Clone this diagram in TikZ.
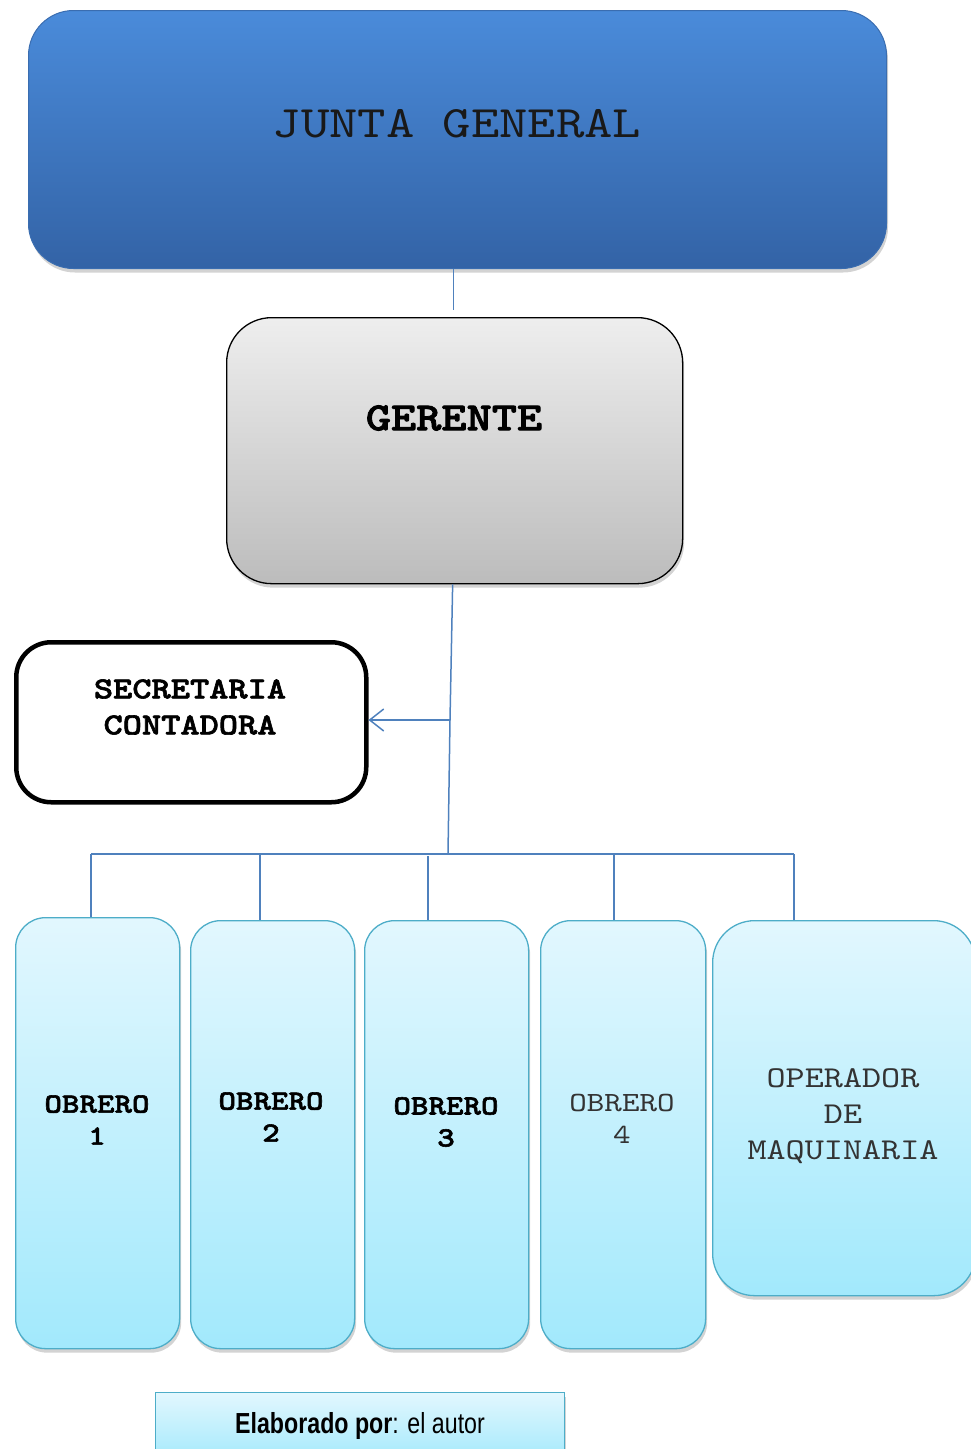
\documentclass[tikz,border=0pt]{standalone}
\usepackage{fontspec}
\newfontfamily\cour{lmmono10-regular.otf}[BoldFont=lmmonolt10-bold.otf, BoldFeatures={FakeBold=2}, FakeStretch=1.2]
\newfontfamily\narrow{Liberation Sans}[FakeStretch=0.80]
\usetikzlibrary{arrows.meta,shadows}
\definecolor{jgtop}{HTML}{4A8BDA}
\definecolor{jgbot}{HTML}{3363A6}
\definecolor{jgline}{HTML}{3A6DB0}
\definecolor{grtop}{HTML}{EEEEEE}
\definecolor{grbot}{HTML}{BCBCBC}
\definecolor{cytop}{HTML}{E2F7FE}
\definecolor{cybot}{HTML}{A2E9FC}
\definecolor{cyline}{HTML}{4DADC8}
\definecolor{link}{HTML}{4F81BD}
\tikzset{
  box/.style={anchor=north west, inner sep=0pt},
  shade/.style={drop shadow={opacity=0.35, shadow xshift=1.5pt, shadow yshift=-4pt}},
  junta/.style={box, rounded corners=45pt, top color=jgtop, bottom color=jgbot,
    draw=jgline, line width=1pt, shade},
  jefe/.style={box, rounded corners=45pt, top color=grtop, bottom color=grbot,
    draw=black, line width=1.3pt, shade},
  apoyo/.style={box, rounded corners=35pt, fill=white, draw=black, line width=4.5pt},
  obrero/.style={box, rounded corners=30pt, top color=cytop, bottom color=cybot,
    draw=cyline, line width=1.3pt, shade},
  nota/.style={box, top color=cytop, bottom color=cybot, draw=cyline,
    line width=1.3pt, shade},
  link/.style={draw=link, line width=1.5pt},
  titlefont/.style={font=\cour\fontsize{45}{52}\selectfont, text=black!90},
  bossfont/.style={font=\cour\bfseries\fontsize{40}{46}\selectfont},
  secfont/.style={align=center, font=\cour\bfseries\fontsize{30.5}{36}\selectfont},
  workfont/.style={align=center, font=\cour\bfseries\fontsize{27.8}{32}\selectfont},
  plainfont/.style={align=center, font=\cour\fontsize{27.8}{32}\selectfont, text=black!80},
  opfont/.style={align=center, font=\cour\fontsize{30.3}{36}\selectfont, text=black!80},
}
\begin{document}
\begin{tikzpicture}[x=1pt, y=-1pt]
\useasboundingbox (0,0) rectangle (971,1449);

% Top level
\node[junta, minimum width=858pt, minimum height=258pt] (jg) at (28,10) {};
\node[titlefont] (jgtxt) at (457,124) {JUNTA GENERAL};

% Manager
\node[jefe, minimum width=456pt, minimum height=266pt] (ger) at (226,317) {};
\node[bossfont] (gertxt) at (454,418) {GERENTE};

% Secretary / accountant
\node[apoyo, minimum width=350pt, minimum height=160pt] (sec) at (14,640) {};
\node[secfont] (sectxt) at (190,707) {SECRETARIA\\CONTADORA};

% Workers
\node[obrero, minimum width=164pt, minimum height=431pt] (o1) at (15,917) {};
\node[obrero, minimum width=164pt, minimum height=428pt] (o2) at (190,920) {};
\node[obrero, minimum width=164pt, minimum height=428pt] (o3) at (364,920) {};
\node[obrero, minimum width=165pt, minimum height=428pt] (o4) at (540,920) {};
\node[obrero, rounded corners=42pt, minimum width=263pt, minimum height=375pt] (op) at (712,920) {};
\node[workfont] (o1txt) at (97,1120) {OBRERO\\1};
\node[workfont] (o2txt) at (271,1117) {OBRERO\\2};
\node[workfont] (o3txt) at (446,1122) {OBRERO\\3};
\node[plainfont] (o4txt) at (622,1119) {OBRERO\\4};
\node[opfont] (optxt) at (843,1116) {OPERADOR\\DE\\MAQUINARIA};

% Source note
\node[nota, minimum width=409pt, minimum height=70pt] (src) at (155,1392) {};
\node[font=\narrow\fontsize{29}{32}\selectfont] (srctxt) at (360,1426) {\textbf{Elaborado por}: el autor};

% Connectors
\coordinate (split) at (450,720);
\coordinate (bus) at (448,854);
\draw[link] ([xshift=-1pt]ger.north |- jg.south) -- ([xshift=-1pt, yshift=7pt]ger.north);
\draw[link] ([xshift=-2pt]ger.south) -- (split) -- (bus);
\draw[link, -{Straight Barb[length=14pt, width=22pt, line width=1.5pt]}] (split) -- (split -| sec.east);
\coordinate (b1) at (91,854);
\coordinate (b2) at (260,854);
\coordinate (b3) at (428,854);
\coordinate (b4) at (614,854);
\coordinate (b5) at (794,854);
\draw[link] (b1) -- (b5);
\draw[link] (b1) -- (b1 |- o1.north);
\draw[link] (b2) -- (b2 |- o2.north);
\draw[link] ([yshift=-2pt]b3) -- (b3 |- o3.north);
\draw[link] (b4) -- (b4 |- o4.north);
\draw[link] (b5) -- (b5 |- op.north);
\end{tikzpicture}
\end{document}
